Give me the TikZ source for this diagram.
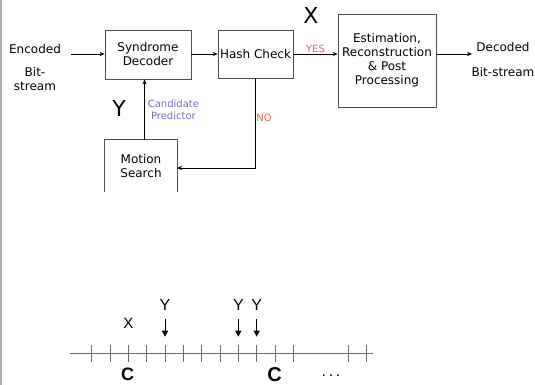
\documentclass[tikz,border=0pt]{standalone}
\usepackage{fontspec}
\setmainfont{DejaVu Sans}
\newfontfamily\arialfont{Liberation Sans}
\usetikzlibrary{arrows.meta,positioning}
\definecolor{boxgray}  {RGB}{80,  80,  80}
\definecolor{answerred}{RGB}{225, 110, 85}
\definecolor{candblue} {RGB}{110, 110, 185}
\definecolor{axisgray} {RGB}{105, 105, 105}
\definecolor{framegray}{RGB}{175, 175, 175}

\begin{document}
\begin{tikzpicture}[x=1pt,y=-1pt,
  every node/.style={font=\fontsize{12}{14}\selectfont,inner sep=0pt},
  blk/.style={draw=boxgray,line width=0.7pt,align=center},
  flow/.style={draw=black,line width=0.7pt,-{Stealth[length=5pt,width=4pt]}},
  ans/.style={font=\fontsize{10}{12}\selectfont,text=answerred},
  big/.style={font=\fontsize{22}{24}\selectfont},
  sym/.style={font=\arialfont\fontsize{16}{18}\selectfont},
  tick/.style={draw=axisgray,line width=0.9pt},
  drop/.style={draw=black,line width=1pt,-{Triangle[length=6pt,width=6pt]}},
]
\useasboundingbox (0,0) rectangle (535,385);
\draw[framegray,line width=1.5pt] (0.75,0) -- (0.75,385);

%% Decoder chain
\node[align=center] (enc) at (35,49) {Encoded};
\node[align=center] (encbs) at (35,79) {Bit-\\stream};
\coordinate (in) at (71,54);
\node[blk,minimum width=86pt,minimum height=49pt] (sd) at (148,54.5)
  {Syndrome\\Decoder};
\node[blk,minimum width=75pt,minimum height=48pt] (hc) at (255.5,54) {Hash Check};
\node[blk,minimum width=98pt,minimum height=93pt] (est) at (387,60.5)
  {Estimation,\\Reconstruction\\\& Post\\Processing};
\coordinate (out) at (472,54);
\node (dec) at (503,47) {Decoded};
\node (decbs) at (503,72) {Bit-stream};

\draw[flow] (in) -- (sd.west |- in);
\draw[flow] (sd.east |- in) -- (hc.west |- in);
\draw[flow] (hc.east |- in) -- (est.west |- in)
  node[ans,midway,above=1pt] (yes) {YES};
\draw[flow] (est.east |- out) -- (out);

%% Motion search loop (box cut off at the bottom)
\node[align=center,minimum width=72pt,minimum height=52pt] (ms) at (141,166)
  {Motion\\Search};
\draw[boxgray,line width=0.7pt] (ms.south west) -- (ms.north west)
  -- (ms.north east) -- (ms.south east);
\coordinate (cp) at (144.5,140);
\draw[flow] (cp) -- (cp |- sd.south)
  node[midway,right=3pt,align=center,text=candblue,
       font=\fontsize{10}{12}\selectfont] (cand) {Candidate\\Predictor};
\coordinate (ret) at (177,168);
\draw[flow] (hc.south) |- (ret);
\node[ans] (no) at (264,118) {NO};
\node[big] (xlbl) at (311,15) {X};
\node[big] (ylbl) at (119,108) {Y};

%% Sample positions on the line
\coordinate (axl) at (70,353.3);
\coordinate (axr) at (373,353.3);
\draw[axisgray,line width=1.3pt] (axl) -- (axr);
\foreach \k in {0,...,11,14,15}
  \draw[tick] ({91.7+18.33*\k},345) -- ({91.7+18.33*\k},361.7);
\foreach \k/\nm in {4/ya,8/yb,9/yc}{
  \node[sym] (\nm) at ({91.7+18.33*\k},305) {Y};
  \draw[drop] ({91.7+18.33*\k},319.3) -- ({91.7+18.33*\k},336.7);
}
\node[sym,font=\arialfont\fontsize{15}{17}\selectfont] (xs) at (128.3,323.5) {X};
\node[font=\arialfont\bfseries\fontsize{18}{20}\selectfont] (ca) at (127.7,374.5) {C};
\node[font=\arialfont\bfseries\fontsize{20}{22}\selectfont] (cb) at (274.5,374.5) {C};
\node[font=\arialfont\fontsize{16}{18}\selectfont,anchor=base] (dots) at (331,376) {.\,.\,.};

\end{tikzpicture}
\end{document}
